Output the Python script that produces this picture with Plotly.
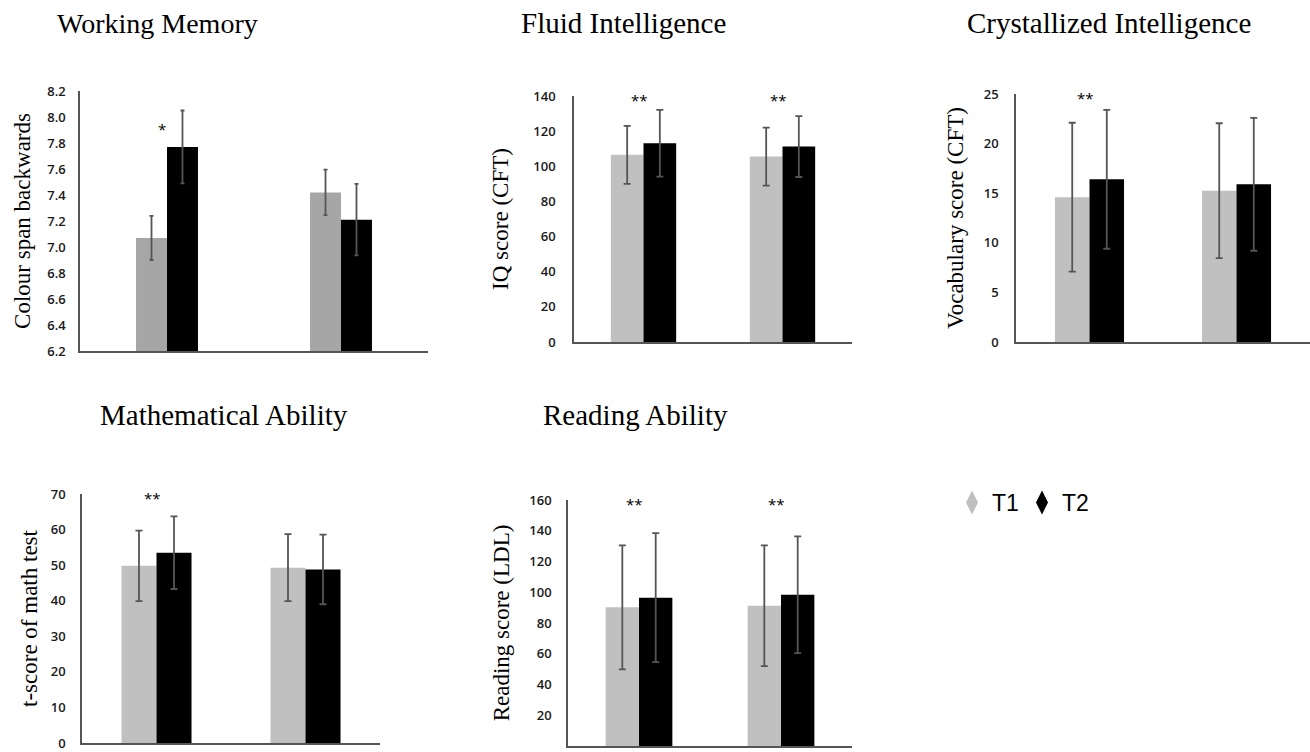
import plotly.graph_objects as go

W, H = 1310, 752

# ---------------- data ----------------
groups = [0, 1]
series_names = ["T1", "T2"]

wm_t1 = [7.07, 7.42]
wm_t1_err = [0.17, 0.175]
wm_t2 = [7.77, 7.21]
wm_t2_err = [0.28, 0.275]

fi_t1 = [106.5, 105.5]
fi_t1_err = [16.5, 16.5]
fi_t2 = [113.1, 111.2]
fi_t2_err = [19.0, 17.3]

ci_t1 = [14.6, 15.25]
ci_t1_err = [7.5, 6.8]
ci_t2 = [16.4, 15.9]
ci_t2_err = [7.0, 6.7]

ma_t1 = [49.8, 49.3]
ma_t1_err = [9.9, 9.4]
ma_t2 = [53.5, 48.8]
ma_t2_err = [10.2, 9.8]

ra_t1 = [90.2, 91.2]
ra_t1_err = [40.3, 39.3]
ra_t2 = [96.5, 98.4]
ra_t2_err = [42.0, 38.0]

# significance markers per group: (label, y value)
wm_sig = [("*", 7.94), ("", None)]
fi_sig = [("**", 140), ("**", 140)]
ci_sig = [("**", 25), ("", None)]
ma_sig = [("**", 70), ("", None)]
ra_sig = [("**", 160), ("**", 160)]

titles = ["Working Memory", "Fluid Intelligence", "Crystallized Intelligence",
          "Mathematical Ability", "Reading Ability"]
ytitles = ["Colour span backwards", "IQ score (CFT)", "Vocabulary score (CFT)",
           "t-score of math test", "Reading score (LDL)"]
yranges = [(6.2, 8.2), (0, 140), (0, 25), (0, 70), (0, 160)]
ydticks = [0.2, 20, 5, 10, 20]

# ---------------- layout helpers ----------------
def px_x(x):
    return x / W

def px_y(y):
    return 1 - y / H

# pixel boxes: (x0, x1, ytop, ybottom)
boxes = [(80, 428, 91, 351), (574, 852, 96, 342), (1016, 1310, 94, 342),
         (82, 380, 494, 743), (568, 852, 500, 746)]
title_pos = [(55, 23), (519, 23), (965, 23), (98, 415), (541, 415)]
title_size = [28, 29, 29, 29, 29]
tick_standoff = [10, 14, 13, 12, 12]
title_standoff = [10, 18, 14, 7, 13]

panels = [
    (wm_t1, wm_t1_err, wm_t2, wm_t2_err, wm_sig, "#a6a6a6", 0.178, 2.0),
    (fi_t1, fi_t1_err, fi_t2, fi_t2_err, fi_sig, "#c0c0c0", 0.235, 3.5),
    (ci_t1, ci_t1_err, ci_t2, ci_t2_err, ci_sig, "#c0c0c0", 0.235, 3.5),
    (ma_t1, ma_t1_err, ma_t2, ma_t2_err, ma_sig, "#c0c0c0", 0.235, 3.5),
    (ra_t1, ra_t1_err, ra_t2, ra_t2_err, ra_sig, "#c0c0c0", 0.235, 3.5),
]

fig = go.Figure()
annotations = []
tick_font = dict(family="Open Sans", size=13, color="#1a1a1a", weight=600)

for i, (t1, e1, t2, e2, sig, gray, bw, capw) in enumerate(panels):
    n = i + 1
    xa = "x" if n == 1 else f"x{n}"
    ya = "y" if n == 1 else f"y{n}"
    err_style = dict(type="data", color="#555555", thickness=1.8, width=capw)
    fig.add_trace(go.Bar(x=groups, y=t1, width=bw, offset=-bw, marker_color=gray,
                         marker_line_width=0, showlegend=False,
                         error_y=dict(array=e1, **err_style), xaxis=xa, yaxis=ya))
    fig.add_trace(go.Bar(x=groups, y=t2, width=bw, offset=0, marker_color="black",
                         marker_line_width=0, showlegend=False,
                         error_y=dict(array=e2, **err_style), xaxis=xa, yaxis=ya))
    x0, x1, yt, yb = boxes[i]
    lo, hi = yranges[i]
    nt = round((hi - lo) / ydticks[i])
    tickvals = [lo + k * ydticks[i] for k in range(nt + 1)]
    if ydticks[i] < 1:
        ticktext = [f"{v:.1f}" for v in tickvals]
    else:
        ticktext = [str(int(round(v))) for v in tickvals]
    xkey = "xaxis" if n == 1 else f"xaxis{n}"
    ykey = "yaxis" if n == 1 else f"yaxis{n}"
    fig.update_layout({
        xkey: dict(domain=[px_x(x0), px_x(x1)], range=[-0.5, 1.5], anchor=ya,
                   showticklabels=False, ticks="", showgrid=False, zeroline=False,
                   automargin=False,
                   showline=True, linecolor="#555555", linewidth=1.5, fixedrange=True),
        ykey: dict(domain=[px_y(yb), px_y(yt)], range=[lo, hi], anchor=xa,
                   tickvals=tickvals, ticktext=ticktext, ticks="",
                   ticklabelstandoff=tick_standoff[i], tickfont=tick_font,
                   showgrid=False, zeroline=False, showline=True, automargin=False,
                   linecolor="#555555", linewidth=1.5, fixedrange=True,
                   title=dict(text=ytitles[i], standoff=title_standoff[i],
                              font=dict(family="Liberation Serif", size=23, color="black"))),
    })
    for g, (lab, yv) in zip(groups, sig):
        if lab:
            annotations.append(dict(x=g - 0.03, y=yv, xref=xa, yref=ya, text=lab,
                                    showarrow=False, yshift=-4,
                                    font=dict(family="Open Sans", size=15, color="black")))
    tx, ty = title_pos[i]
    annotations.append(dict(x=px_x(tx), y=px_y(ty), xref="paper", yref="paper",
                            xanchor="left", yanchor="middle", text=titles[i], showarrow=False,
                            font=dict(family="Liberation Serif", size=title_size[i],
                                      color="black")))

# legend entries
for name, col in zip(series_names, ["#c0c0c0", "black"]):
    fig.add_trace(go.Scatter(x=[None], y=[None], mode="markers", name=name,
                             marker=dict(symbol="diamond-tall", size=14, color=col,
                                         line=dict(color=col, width=2)),
                             xaxis="x5", yaxis="y5"))

fig.update_layout(
    width=W, height=H, autosize=False,
    margin=dict(l=0, r=0, t=0, b=0, pad=0, autoexpand=False),
    paper_bgcolor="white", plot_bgcolor="white",
    barmode="overlay",
    annotations=annotations,
    legend=dict(orientation="h", x=px_x(952), y=px_y(502.5), xanchor="left", yanchor="middle",
                font=dict(family="Liberation Sans", size=23, color="black"),
                bgcolor="rgba(0,0,0,0)", itemwidth=30, tracegroupgap=0,
                entrywidth=25, entrywidthmode="pixels"),
)

post = ("document.documentElement.style.margin='0';document.body.style.margin='0';"
        "document.body.style.overflow='hidden';")
fig.write_html("out.html", config={"responsive": False, "displayModeBar": False},
               post_script=post)
